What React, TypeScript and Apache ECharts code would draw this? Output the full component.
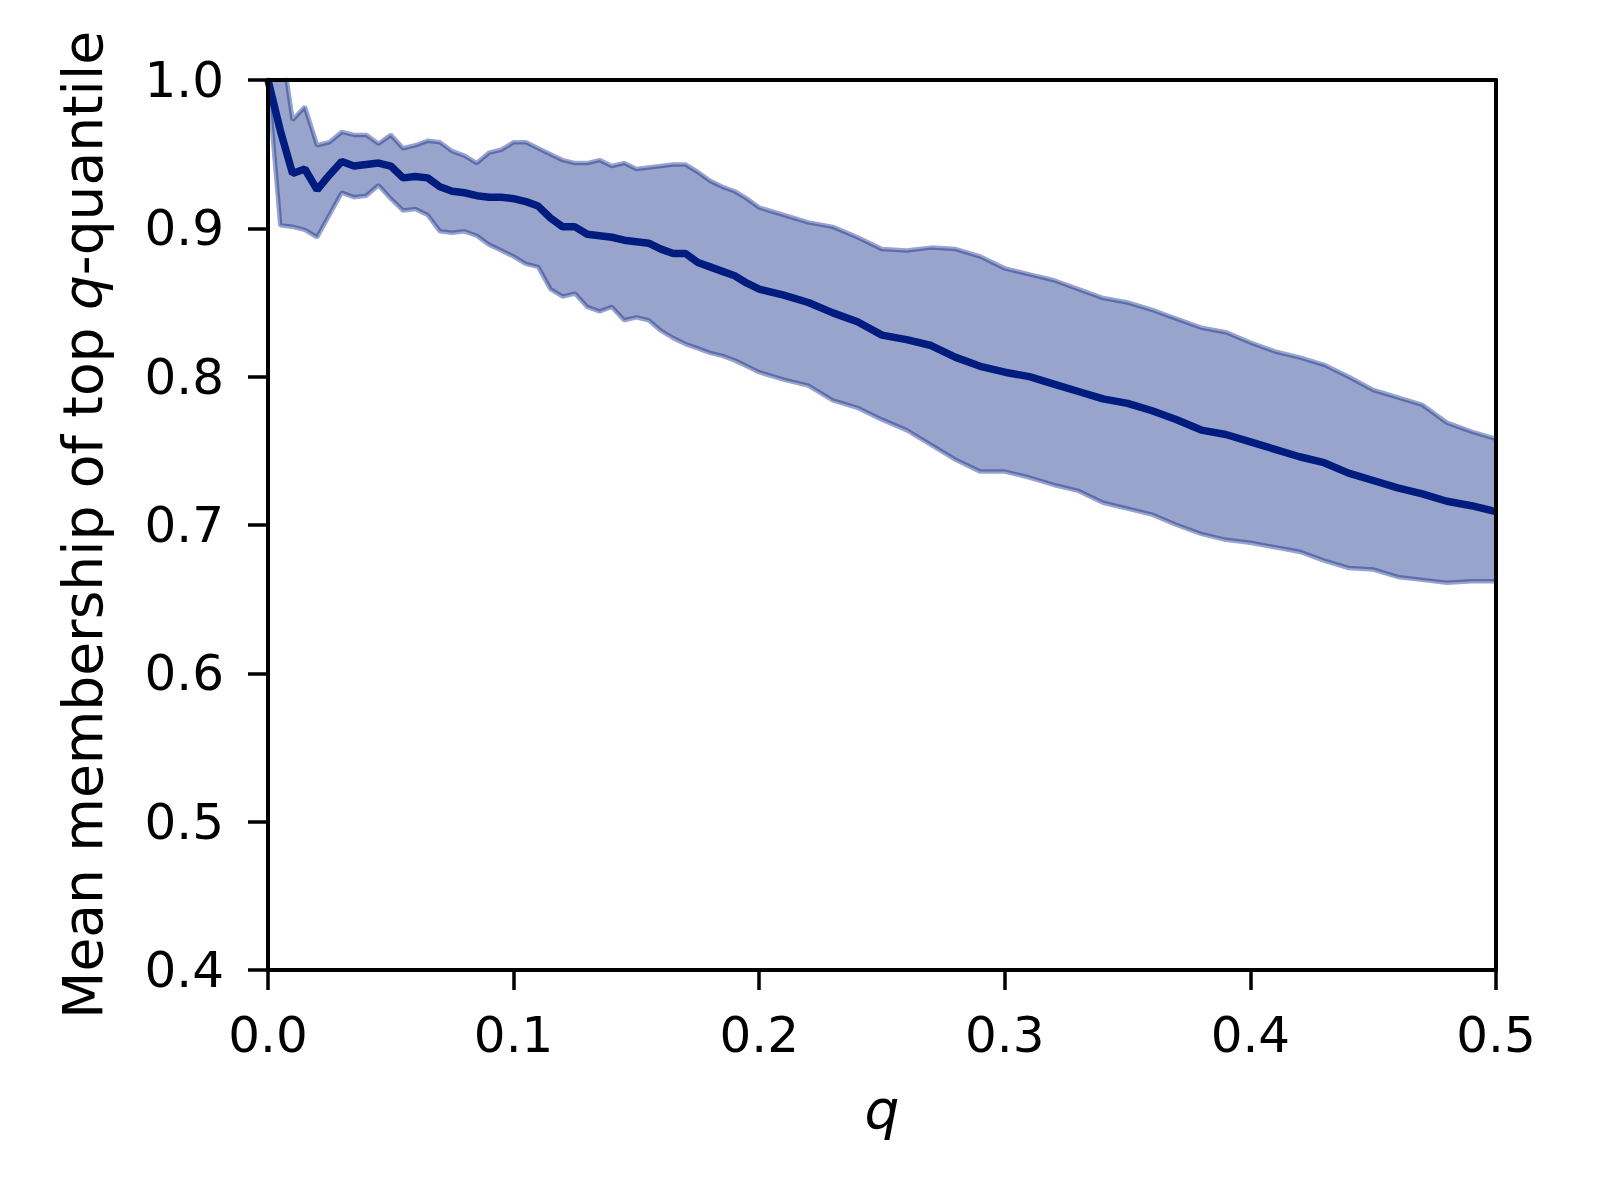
import React, { useEffect, useRef } from "react";
import * as echarts from "echarts";

const qValues = [
  0, 0.005, 0.01, 0.015, 0.02, 0.025, 0.03, 0.035, 0.04, 0.045, 0.05, 0.055, 0.06, 0.065, 0.07, 0.075,
  0.08, 0.085, 0.09, 0.095, 0.1, 0.105, 0.11, 0.115, 0.12, 0.125, 0.13, 0.135, 0.14, 0.145, 0.15, 0.155,
  0.16, 0.165, 0.17, 0.175, 0.18, 0.185, 0.19, 0.195, 0.2,
  0.21, 0.22, 0.23, 0.24, 0.25, 0.26, 0.27, 0.28, 0.29, 0.3, 0.31, 0.32, 0.33, 0.34, 0.35, 0.36, 0.37,
  0.38, 0.39, 0.4, 0.41, 0.42, 0.43, 0.44, 0.45, 0.46, 0.47, 0.48, 0.49, 0.5,
];

const meanValues = [
  1.0, 0.966, 0.937, 0.94, 0.926, 0.936, 0.945, 0.942, 0.943, 0.944, 0.942, 0.934, 0.935, 0.934, 0.928, 0.925,
  0.924, 0.922, 0.921, 0.921, 0.92, 0.918, 0.915, 0.907, 0.901, 0.901, 0.896, 0.895, 0.894, 0.892, 0.891, 0.89,
  0.886, 0.883, 0.883, 0.877, 0.874, 0.871, 0.868, 0.863, 0.859,
  0.855, 0.85, 0.843, 0.837, 0.828, 0.825, 0.821, 0.813, 0.807, 0.803, 0.8, 0.795, 0.79, 0.785, 0.782, 0.777,
  0.771, 0.764, 0.761, 0.756, 0.751, 0.746, 0.742, 0.735, 0.73, 0.725, 0.721, 0.716, 0.713, 0.709,
];

const upperValues = [
  1.0, 1.03, 0.973, 0.982, 0.956, 0.958, 0.965, 0.963, 0.963, 0.957, 0.963, 0.954, 0.956, 0.959, 0.958, 0.952,
  0.949, 0.944, 0.951, 0.953, 0.958, 0.958, 0.954, 0.95, 0.946, 0.944, 0.944, 0.946, 0.942, 0.944, 0.94, 0.941,
  0.942, 0.943, 0.943, 0.938, 0.932, 0.928, 0.925, 0.92, 0.914,
  0.909, 0.904, 0.901, 0.894, 0.886, 0.885, 0.887, 0.886, 0.881, 0.873, 0.869, 0.865, 0.859, 0.853, 0.85, 0.845,
  0.839, 0.833, 0.83, 0.823, 0.817, 0.813, 0.808, 0.8, 0.791, 0.786, 0.781, 0.769, 0.763, 0.758,
];

const lowerValues = [
  1.0, 0.902, 0.901, 0.899, 0.894, 0.909, 0.924, 0.921, 0.922, 0.929, 0.92, 0.912, 0.913, 0.909, 0.898, 0.897,
  0.898, 0.895, 0.889, 0.885, 0.881, 0.876, 0.874, 0.859, 0.854, 0.856, 0.847, 0.844, 0.847, 0.838, 0.84, 0.838,
  0.831, 0.826, 0.822, 0.819, 0.816, 0.814, 0.811, 0.807, 0.803,
  0.798, 0.794, 0.784, 0.779, 0.771, 0.764, 0.754, 0.744, 0.736, 0.736, 0.732, 0.727, 0.723, 0.715, 0.711, 0.707,
  0.7, 0.694, 0.69, 0.688, 0.685, 0.682, 0.676, 0.671, 0.67, 0.665, 0.663, 0.661, 0.662, 0.662,
];

const xTicks = { min: 0, max: 0.5, interval: 0.1 };
const yTicks = { min: 0.4, max: 1.0, interval: 0.1 };

const NAVY = "#001c7f";
const BAND = "rgba(0,28,127,0.4)";
const FONT = "DejaVu Sans";

export default function App() {
  const ref = useRef<HTMLDivElement>(null);

  useEffect(() => {
    if (!ref.current) return;
    const chart = echarts.init(ref.current, undefined, { renderer: "svg" });

    const pairs = (ys: number[]) => qValues.map((q, i) => [q, ys[i]]);
    const bandData = qValues.map((q, i) => [q, lowerValues[i], upperValues[i]]);

    const labelStyle = { color: "#000", fontSize: 50, fontFamily: FONT };
    const nameStyle = { color: "#000", fontSize: 55, fontFamily: FONT };
    const tickStyle = { show: true, inside: false, length: 20, lineStyle: { color: "#000", width: 3.5 } };
    const lineStyle = { show: true, lineStyle: { color: "#000", width: 4 } };

    chart.setOption({
      animation: false,
      backgroundColor: "#fff",
      grid: { left: 268, top: 80, width: 1228, height: 890, containLabel: false },
      xAxis: [
        {
          type: "value",
          min: xTicks.min,
          max: xTicks.max,
          interval: xTicks.interval,
          z: 10,
          axisLine: { ...lineStyle, onZero: false },
          axisTick: tickStyle,
          axisLabel: { ...labelStyle, margin: 40, formatter: (v: number) => v.toFixed(1) },
          splitLine: { show: false },
          name: "q",
          nameLocation: "middle",
          nameGap: 112,
          nameTextStyle: { ...nameStyle, fontStyle: "italic" },
        },
        {
          type: "value",
          position: "top",
          min: xTicks.min,
          max: xTicks.max,
          z: 10,
          axisLine: { ...lineStyle, onZero: false },
          axisTick: { show: false },
          axisLabel: { show: false },
          splitLine: { show: false },
        },
      ],
      yAxis: [
        {
          type: "value",
          min: yTicks.min,
          max: yTicks.max,
          interval: yTicks.interval,
          z: 10,
          axisLine: { ...lineStyle, onZero: false },
          axisTick: tickStyle,
          axisLabel: { ...labelStyle, margin: 44, formatter: (v: number) => v.toFixed(1) },
          splitLine: { show: false },
          name: "Mean membership of top {i|q}-quantile",
          nameLocation: "middle",
          nameGap: 158,
          nameTextStyle: {
            ...nameStyle,
            rich: { i: { ...nameStyle, fontStyle: "italic" } },
          },
        },
        {
          type: "value",
          position: "right",
          min: yTicks.min,
          max: yTicks.max,
          z: 10,
          axisLine: { ...lineStyle, onZero: false },
          axisTick: { show: false },
          axisLabel: { show: false },
          splitLine: { show: false },
        },
      ],
      series: [
        {
          type: "custom",
          clip: true,
          silent: true,
          data: bandData,
          encode: { x: 0, y: [1, 2] },
          renderItem: (params: any, api: any) => {
            if (params.dataIndex !== 0) return null;
            const pts: number[][] = [];
            for (let i = 0; i < qValues.length; i++) {
              pts.push(api.coord([qValues[i], upperValues[i]]));
            }
            for (let i = qValues.length - 1; i >= 0; i--) {
              pts.push(api.coord([qValues[i], lowerValues[i]]));
            }
            return {
              type: "polygon",
              shape: { points: pts },
              style: { fill: BAND, stroke: "none" },
            };
          },
        },
        {
          type: "line",
          data: pairs(upperValues),
          symbol: "none",
          lineStyle: { color: BAND, width: 4.5 },
          silent: true,
        },
        {
          type: "line",
          data: pairs(lowerValues),
          symbol: "none",
          lineStyle: { color: BAND, width: 4.5 },
          silent: true,
        },
        {
          type: "line",
          data: pairs(meanValues),
          symbol: "none",
          lineStyle: { color: NAVY, width: 7.5 },
          silent: true,
        },
      ],
    });

    return () => chart.dispose();
  }, []);

  return (
    <div
      ref={ref}
      style={{ position: "absolute", left: 0, top: 0, width: 1600, height: 1200 }}
    />
  );
}
